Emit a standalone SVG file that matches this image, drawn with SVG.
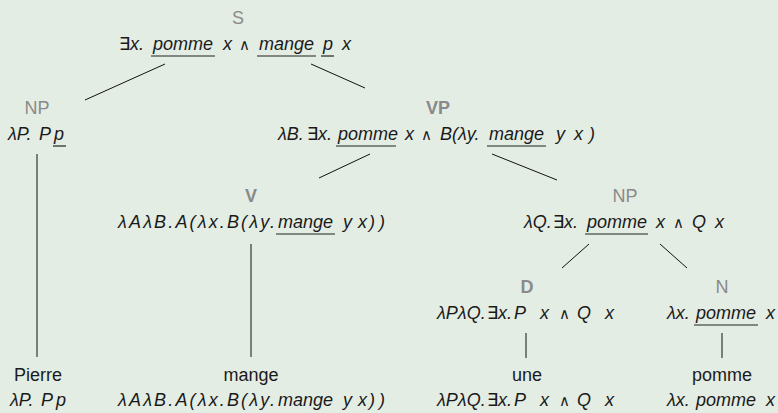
<svg xmlns="http://www.w3.org/2000/svg" width="778" height="413" viewBox="0 0 778 413">
<style>
.lbl{font-family:"Liberation Sans","DejaVu Sans",sans-serif;font-size:18px;fill:#8a8a8a;text-anchor:middle}
.b{font-weight:bold}
.f{font-family:"Liberation Sans","DejaVu Sans",sans-serif;font-size:18px;font-style:italic;fill:#1a1a1a}
.up{font-style:normal}
.and{font-style:normal;font-size:15px}
.w{font-family:"Liberation Sans","DejaVu Sans",sans-serif;font-size:18px;fill:#1a1a1a;text-anchor:middle}
.ul{stroke:#222;stroke-width:1.2}
.e{stroke:#111;stroke-width:1;fill:none}
</style>
<rect width="778" height="413" fill="#e4ede4"/>
<g id="connectors">
<line class="e" x1="165" y1="64" x2="85" y2="100"/>
<line class="e" x1="311" y1="64" x2="365" y2="88"/>
<line class="e" x1="37" y1="154" x2="37" y2="357"/>
<line class="e" x1="370" y1="154" x2="319" y2="178"/>
<line class="e" x1="492" y1="154" x2="557" y2="180"/>
<line class="e" x1="251" y1="244" x2="251" y2="357"/>
<line class="e" x1="589" y1="244" x2="562" y2="268"/>
<line class="e" x1="660" y1="244" x2="687" y2="268"/>
<line class="e" x1="526" y1="333" x2="526" y2="358"/>
<line class="e" x1="722" y1="333" x2="722" y2="358"/>
</g>
<g id="S">
<text class="lbl" x="238" y="24">S</text>
<text class="f" y="50"><tspan x="119" class="up">∃</tspan><tspan x="130">x.</tspan><tspan x="153">pomme</tspan><tspan x="223">x</tspan><tspan x="239" class="and">∧</tspan><tspan x="259">mange</tspan><tspan x="323">p</tspan><tspan x="342">x</tspan></text>
<line class="ul" x1="151" y1="56" x2="215" y2="56"/>
<line class="ul" x1="257" y1="56" x2="316" y2="56"/>
<line class="ul" x1="321" y1="56" x2="334" y2="56"/>
</g>
<g id="NP1">
<text class="lbl" x="37" y="114">NP</text>
<text class="f" y="140"><tspan x="8">λP.</tspan><tspan x="39">P</tspan><tspan x="54">p</tspan></text>
<line class="ul" x1="53" y1="146" x2="66" y2="146"/>
</g>
<g id="VP">
<text class="lbl b" x="438" y="114">VP</text>
<text class="f" y="140"><tspan x="278">λB.</tspan><tspan x="307" class="up">∃</tspan><tspan x="318">x.</tspan><tspan x="338">pomme</tspan><tspan x="405">x</tspan><tspan x="421" class="and">∧</tspan><tspan x="440">B(λy.</tspan><tspan x="489">mange</tspan><tspan x="556">y</tspan><tspan x="574">x</tspan><tspan x="589">)</tspan></text>
<line class="ul" x1="336" y1="146" x2="396" y2="146"/>
<line class="ul" x1="487" y1="146" x2="546" y2="146"/>
</g>
<g id="V">
<text class="lbl b" x="251" y="202">V</text>
<text class="f" y="228"><tspan x="118" textLength="157" lengthAdjust="spacing">λAλB.A(λx.B(λy.</tspan><tspan x="278">mange</tspan><tspan x="343">y</tspan><tspan x="358">x</tspan><tspan x="369" textLength="16" lengthAdjust="spacing">))</tspan></text>
<line class="ul" x1="276" y1="234" x2="335" y2="234"/>
</g>
<g id="NP2">
<text class="lbl" x="625" y="202">NP</text>
<text class="f" y="228"><tspan x="524">λQ.</tspan><tspan x="553" class="up">∃</tspan><tspan x="564">x.</tspan><tspan x="587">pomme</tspan><tspan x="656">x</tspan><tspan x="673" class="and">∧</tspan><tspan x="692">Q</tspan><tspan x="715">x</tspan></text>
<line class="ul" x1="585" y1="234" x2="648" y2="234"/>
</g>
<g id="D">
<text class="lbl b" x="527" y="293">D</text>
<text class="f" y="319"><tspan x="437">λPλQ.</tspan><tspan x="487" class="up">∃</tspan><tspan x="498">x.</tspan><tspan x="514">P</tspan><tspan x="540">x</tspan><tspan x="559" class="and">∧</tspan><tspan x="577">Q</tspan><tspan x="605">x</tspan></text>
</g>
<g id="N">
<text class="lbl" x="722" y="293">N</text>
<text class="f" y="319"><tspan x="667">λx.</tspan><tspan x="696">pomme</tspan><tspan x="766">x</tspan></text>
<line class="ul" x1="694" y1="325" x2="758" y2="325"/>
</g>
<g id="Pierre">
<text class="w" x="38" y="381">Pierre</text>
<text class="f" y="406"><tspan x="10">λP.</tspan><tspan x="41">P</tspan><tspan x="56">p</tspan></text>
</g>
<g id="mange">
<text class="w" x="251" y="381">mange</text>
<text class="f" y="406"><tspan x="118" textLength="157" lengthAdjust="spacing">λAλB.A(λx.B(λy.</tspan><tspan x="278">mange</tspan><tspan x="343">y</tspan><tspan x="358">x</tspan><tspan x="369" textLength="16" lengthAdjust="spacing">))</tspan></text>
</g>
<g id="une">
<text class="w" x="527" y="381">une</text>
<text class="f" y="406"><tspan x="437">λPλQ.</tspan><tspan x="487" class="up">∃</tspan><tspan x="498">x.</tspan><tspan x="514">P</tspan><tspan x="540">x</tspan><tspan x="559" class="and">∧</tspan><tspan x="577">Q</tspan><tspan x="605">x</tspan></text>
</g>
<g id="pomme">
<text class="w" x="722" y="381">pomme</text>
<text class="f" y="406"><tspan x="667">λx.</tspan><tspan x="696">pomme</tspan><tspan x="766">x</tspan></text>
</g>
</svg>
